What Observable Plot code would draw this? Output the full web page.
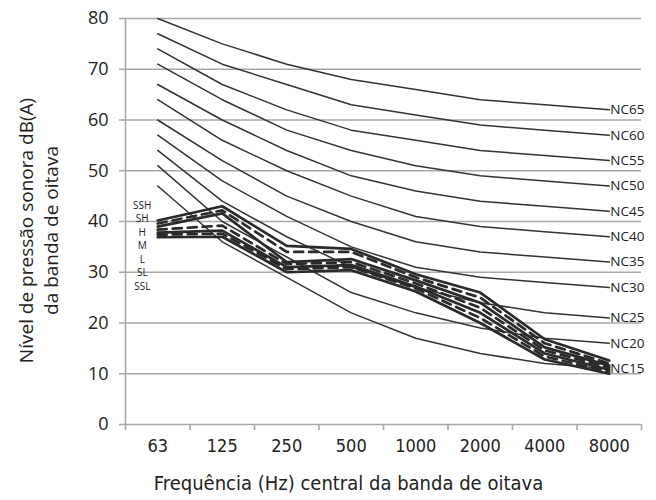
<!DOCTYPE html>
<html><head><meta charset="utf-8">
<script src="https://cdn.jsdelivr.net/npm/d3@7"></script>
<script src="https://cdn.jsdelivr.net/npm/@observablehq/plot@0.6"></script>
<style>body{margin:0;background:#fff;} svg{display:block;}</style>
</head><body><div id="chart"></div>
<script>
// Octave-band centre frequencies (Hz)
const frequencies = ["63","125","250","500","1000","2000","4000","8000"];
const yTicks = [0,10,20,30,40,50,60,70,80];

// NC curves
const ncNames = ["NC15","NC20","NC25","NC30","NC35","NC40","NC45","NC50","NC55","NC60","NC65"];
const nc15 = [47,36,29,22,17,14,12,11];
const nc20 = [51,40,33,26,22,19,17,16];
const nc25 = [54,44,37,31,27,24,22,21];
const nc30 = [57,48,41,35,31,29,28,27];
const nc35 = [60,52,45,40,36,34,33,32];
const nc40 = [64,56,50,45,41,39,38,37];
const nc45 = [67,60,54,49,46,44,43,42];
const nc50 = [71,64,58,54,51,49,48,47];
const nc55 = [74,67,62,58,56,54,53,52];
const nc60 = [77,71,67,63,61,59,58,57];
const nc65 = [80,75,71,68,66,64,63,62];
const ncValues = [nc15,nc20,nc25,nc30,nc35,nc40,nc45,nc50,nc55,nc60,nc65];

// Bold rating curves
const ratingNames = ["SSH","SH","H","M","L","SL","SSL"];
const ratingDashed = [false,true,false,true,false,true,false];
const ssh = [40.2,43.0,35.2,34.6,29.6,26.0,16.8,12.6];
const sh  = [39.6,42.2,34.0,34.0,29.0,25.0,16.0,12.0];
const h   = [39.0,41.6,32.0,32.6,28.4,24.0,15.2,11.6];
const m   = [38.4,39.2,31.6,32.0,27.8,23.0,14.6,11.2];
const l   = [37.8,38.2,31.0,31.4,27.2,22.0,14.0,10.8];
const sl  = [37.4,37.6,30.6,31.0,26.8,21.0,13.4,10.4];
const ssl = [36.9,37.0,30.0,30.4,26.2,20.0,12.8,10.0];
const ratingValues = [ssh,sh,h,m,l,sl,ssl];

const xTitle = "Frequência (Hz) central da banda de oitava";
const yTitle = "Nível de pressão sonora dB(A)\nda banda de oitava";

// tidy tables
const ncRows = ncNames.flatMap((name,k) => ncValues[k].map((v,i) => ({name, xi:i+0.5, value:v})));
const ncEnds = ncNames.map((name,k) => ({name, xi:frequencies.length-0.5, value:ncValues[k][frequencies.length-1]}));
const ratingRows = ratingNames.flatMap((name,k) => ratingValues[k].map((v,i) => ({name, dashed:ratingDashed[k], xi:i+0.5, value:v})));
// left-hand legend stack
const legendTop = 43.1, legendStep = 2.65;
const legendRows = ratingNames.map((name,k) => ({name, xi:0.26, value:legendTop - k*legendStep}));

const grid = "#a8a8a8";
const ink = "#333333";
const narrow = "'Liberation Sans Narrow','DejaVu Sans Condensed','Arial Narrow',sans-serif";

const chart = Plot.plot({
  width: 656, height: 500,
  marginTop: 18, marginBottom: 76, marginLeft: 125, marginRight: 15,
  style: {fontFamily: "'Open Sans', sans-serif", background: "#fff", color: "#222"},
  x: {type: "linear", domain: [0, frequencies.length], axis: null},
  y: {domain: [0, 80], axis: null},
  marks: [
    Plot.ruleY(yTicks.filter(d => d > 0), {stroke: grid, strokeWidth: 1.6}),
    Plot.ruleX([0], {stroke: grid, strokeWidth: 1.6}),
    Plot.ruleY([0], {stroke: grid, strokeWidth: 1.6}),
    Plot.axisY({ticks: yTicks, tickSize: 6, tickPadding: 11, fontSize: 18, label: null, stroke: grid, strokeWidth: 1.6, color: "#222"}),
    Plot.axisX({ticks: d3.range(frequencies.length + 1), tickSize: 6, tickFormat: () => "", label: null, stroke: grid, strokeWidth: 1.6}),
    Plot.axisX({ticks: d3.range(frequencies.length).map(i => i + 0.5), tickSize: 0, tickPadding: 15,
      tickFormat: v => frequencies[Math.floor(v)], label: null, fontSize: 18, fontFamily: narrow, color: "#222"}),
    Plot.line(ncRows, {x: "xi", y: "value", z: "name", stroke: ink, strokeWidth: 1.5}),
    Plot.line(ratingRows.filter(d => !d.dashed), {x: "xi", y: "value", z: "name", stroke: "#2a2a2a", strokeWidth: 2.7}),
    Plot.line(ratingRows.filter(d => d.dashed), {x: "xi", y: "value", z: "name", stroke: "#2a2a2a", strokeWidth: 2.7, strokeDasharray: "9,6"}),
    Plot.text(ncEnds, {x: "xi", y: "value", text: "name", textAnchor: "start", dx: 1, fontSize: 13.5, fill: "#222"}),
    Plot.text(legendRows, {x: "xi", y: "value", text: "name", fontSize: 10, fill: "#222"}),
    Plot.text([xTitle], {frameAnchor: "bottom", dx: -35, dy: 65, fontSize: 20, fontFamily: narrow, fill: "#222"}),
    Plot.text([yTitle], {frameAnchor: "left", textAnchor: "middle", rotate: -90, dx: -88, dy: 9, fontSize: 19, lineHeight: 1.3, fill: "#222"})
  ]
});
document.getElementById("chart").appendChild(chart);
</script>
</body></html>
